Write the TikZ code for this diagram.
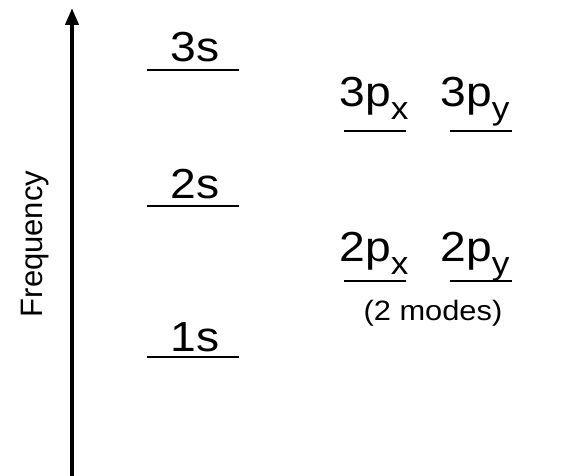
\documentclass[tikz,border=0pt]{standalone}
\usepackage{fontspec}
\setmainfont{Liberation Sans}
\newfontfamily\widefont[FakeStretch=1.1]{Liberation Sans}
\usepackage{tikz}
\usetikzlibrary{arrows.meta}
\newcommand{\lvlsub}[1]{\raisebox{-6.5pt}{\fontsize{16}{18}\selectfont #1}}

\begin{document}
\begin{tikzpicture}[x=0.5pt, y=-0.5pt,
    level/.style={line width=1pt, black},
    lvltxt/.style={anchor=base, inner sep=0pt, font=\widefont\fontsize{21}{25}\selectfont},
    axistxt/.style={anchor=base, inner sep=0pt, rotate=90, font=\fontsize{15.5}{18}\selectfont},
    notetxt/.style={anchor=base, inner sep=0pt, font=\widefont\fontsize{14}{17}\selectfont}]
      \useasboundingbox (0,0) rectangle (574,476);
      % frequency axis
      \coordinate (axbot) at (72,476);
      \coordinate (axtop) at (72,8);
      \draw[line width=2pt, -{Triangle[length=8.5pt, width=6.5pt]}] (axbot) -- (axtop);
      \node[axistxt] (freq) at (42,244) {Frequency};

      % s levels
      \node[lvltxt] (t3s) at (195,62) {3s};
      \draw[level] (147,70) -- (239,70);
      \node[lvltxt] (t2s) at (195,199) {2s};
      \draw[level] (147,206) -- (239,206);
      \node[lvltxt] (t1s) at (195,351) {1s};
      \draw[level] (147,357) -- (239,357);

      % p levels
      \node[lvltxt] (t3px) at (374,107) {3p\lvlsub{x}};
      \draw[level] (344,131) -- (406,131);
      \node[lvltxt] (t3py) at (475,107) {3p\lvlsub{y}};
      \draw[level] (450,131) -- (512,131);
      \node[lvltxt] (t2px) at (374,262) {2p\lvlsub{x}};
      \draw[level] (344,281) -- (406,281);
      \node[lvltxt] (t2py) at (475,262) {2p\lvlsub{y}};
      \draw[level] (450,281) -- (512,281);
      \node[notetxt] (modes) at (433,321) {(2 modes)};
    \end{tikzpicture}
\end{document}
